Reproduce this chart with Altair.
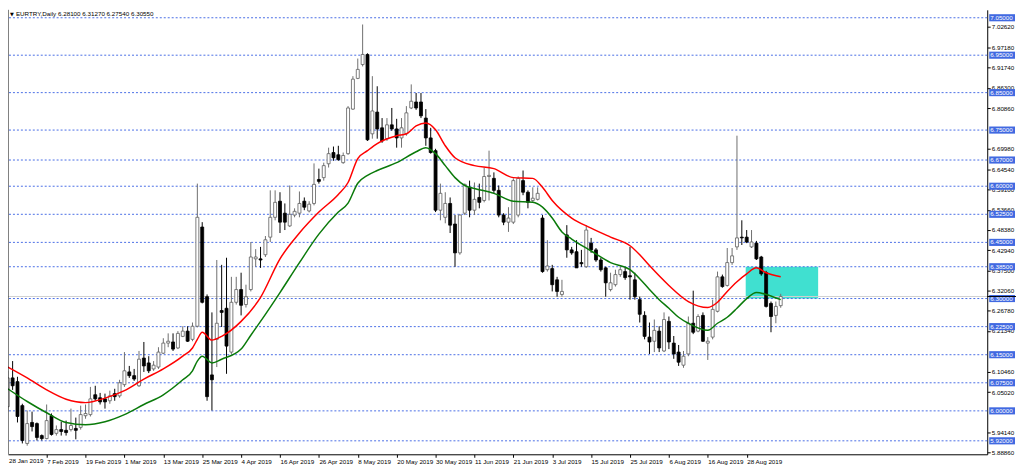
import altair as alt
import pandas as pd

# ---------------- data ----------------
bar_open = [6.011, 6.088, 6.078, 6.014, 5.913, 5.969, 5.966, 5.934, 5.926, 5.987,
            5.940, 5.950, 5.948, 5.950, 5.953, 5.956, 5.987, 5.990, 6.043, 6.035,
            6.032, 6.027, 6.046, 6.040, 6.070, 6.104, 6.094, 6.067, 6.141, 6.128,
            6.112, 6.117, 6.154, 6.181, 6.184, 6.168, 6.199, 6.213, 6.191, 6.226,
            6.491, 6.305, 6.096, 6.191, 6.268, 6.274, 6.157, 6.290, 6.324, 6.284,
            6.324, 6.406, 6.406, 6.417, 6.464, 6.517, 6.560, 6.528, 6.494, 6.523,
            6.528, 6.560, 6.534, 6.554, 6.618, 6.623, 6.660, 6.690, 6.684, 6.663,
            6.687, 6.806, 6.888, 6.925, 6.952, 6.740, 6.798, 6.756, 6.727, 6.764,
            6.753, 6.729, 6.740, 6.809, 6.825, 6.825, 6.782, 6.729, 6.695, 6.536,
            6.517, 6.554, 6.499, 6.422, 6.528, 6.597, 6.536, 6.570, 6.562, 6.626,
            6.621, 6.589, 6.523, 6.504, 6.504, 6.523, 6.615, 6.584, 6.562, 6.565,
            6.515, 6.377, 6.380, 6.350, 6.311, 6.470, 6.430, 6.425, 6.396, 6.385,
            6.448, 6.430, 6.403, 6.382, 6.324, 6.337, 6.364, 6.372, 6.361, 6.350,
            6.297, 6.255, 6.197, 6.186, 6.213, 6.160, 6.239, 6.181, 6.157, 6.122,
            6.152, 6.234, 6.213, 6.255, 6.181, 6.197, 6.266, 6.358, 6.335, 6.396,
            6.438, 6.464, 6.464, 6.438, 6.448, 6.411, 6.369, 6.287, 6.255, 6.281]
bar_high = [6.107, 6.133, 6.091, 6.019, 6.001, 5.998, 5.969, 5.937, 6.017, 5.993,
            5.961, 5.971, 5.974, 6.006, 5.982, 6.014, 6.017, 6.064, 6.067, 6.048,
            6.046, 6.054, 6.059, 6.083, 6.157, 6.120, 6.112, 6.160, 6.184, 6.146,
            6.133, 6.170, 6.194, 6.207, 6.207, 6.213, 6.226, 6.226, 6.236, 6.607,
            6.504, 6.311, 6.263, 6.403, 6.390, 6.409, 6.358, 6.358, 6.369, 6.337,
            6.451, 6.432, 6.438, 6.467, 6.589, 6.589, 6.584, 6.554, 6.602, 6.541,
            6.586, 6.570, 6.560, 6.661, 6.647, 6.663, 6.703, 6.706, 6.708, 6.690,
            6.814, 6.894, 6.941, 7.032, 6.955, 6.894, 6.867, 6.782, 6.782, 6.809,
            6.780, 6.782, 6.814, 6.872, 6.849, 6.849, 6.806, 6.756, 6.700, 6.607,
            6.584, 6.570, 6.523, 6.525, 6.607, 6.615, 6.610, 6.607, 6.650, 6.695,
            6.637, 6.602, 6.528, 6.544, 6.621, 6.626, 6.642, 6.589, 6.597, 6.597,
            6.523, 6.456, 6.390, 6.358, 6.350, 6.496, 6.438, 6.456, 6.430, 6.496,
            6.462, 6.435, 6.409, 6.385, 6.369, 6.377, 6.385, 6.382, 6.438, 6.369,
            6.305, 6.266, 6.236, 6.244, 6.226, 6.263, 6.252, 6.200, 6.176, 6.160,
            6.252, 6.321, 6.258, 6.263, 6.197, 6.297, 6.372, 6.364, 6.435, 6.435,
            6.735, 6.509, 6.483, 6.483, 6.454, 6.414, 6.374, 6.292, 6.292, 6.3127]
bar_low = [5.998, 6.056, 5.969, 5.913, 5.907, 5.945, 5.921, 5.921, 5.924, 5.934,
           5.934, 5.934, 5.934, 5.945, 5.924, 5.950, 5.979, 5.985, 6.027, 6.017,
           6.006, 6.019, 6.027, 6.035, 6.064, 6.088, 6.080, 6.064, 6.104, 6.101,
           6.107, 6.112, 6.152, 6.170, 6.160, 6.165, 6.197, 6.184, 6.186, 6.223,
           6.287, 6.027, 6.001, 6.117, 6.224, 6.099, 6.152, 6.284, 6.255, 6.276,
           6.319, 6.385, 6.382, 6.411, 6.451, 6.509, 6.475, 6.483, 6.491, 6.517,
           6.517, 6.536, 6.530, 6.549, 6.607, 6.615, 6.650, 6.668, 6.668, 6.660,
           6.684, 6.804, 6.886, 6.920, 6.721, 6.727, 6.727, 6.716, 6.721, 6.748,
           6.703, 6.703, 6.735, 6.806, 6.804, 6.782, 6.708, 6.687, 6.531, 6.509,
           6.501, 6.475, 6.385, 6.417, 6.523, 6.517, 6.523, 6.541, 6.557, 6.562,
           6.581, 6.517, 6.496, 6.478, 6.499, 6.517, 6.576, 6.541, 6.557, 6.562,
           6.369, 6.372, 6.319, 6.305, 6.305, 6.409, 6.417, 6.382, 6.385, 6.382,
           6.422, 6.398, 6.372, 6.305, 6.319, 6.332, 6.358, 6.350, 6.297, 6.297,
           6.236, 6.191, 6.152, 6.157, 6.157, 6.157, 6.165, 6.139, 6.120, 6.115,
           6.146, 6.205, 6.210, 6.184, 6.136, 6.191, 6.263, 6.329, 6.332, 6.390,
           6.430, 6.443, 6.448, 6.435, 6.403, 6.361, 6.276, 6.210, 6.234, 6.2754]
bar_close = [6.088, 6.067, 5.985, 5.921, 5.966, 5.958, 5.929, 5.926, 5.974, 5.937,
             5.950, 5.945, 5.942, 5.961, 5.948, 5.990, 5.993, 6.032, 6.032, 6.024,
             6.024, 6.040, 6.038, 6.075, 6.107, 6.094, 6.085, 6.138, 6.120, 6.107,
             6.122, 6.157, 6.181, 6.186, 6.165, 6.207, 6.213, 6.186, 6.226, 6.517,
             6.290, 6.038, 6.083, 6.234, 6.263, 6.173, 6.290, 6.324, 6.282, 6.305,
             6.411, 6.411, 6.403, 6.457, 6.517, 6.557, 6.504, 6.504, 6.525, 6.533,
             6.554, 6.544, 6.552, 6.605, 6.613, 6.655, 6.687, 6.676, 6.671, 6.682,
             6.809, 6.886, 6.912, 6.952, 6.724, 6.801, 6.753, 6.721, 6.764, 6.753,
             6.729, 6.756, 6.796, 6.827, 6.809, 6.788, 6.729, 6.690, 6.536, 6.581,
             6.554, 6.496, 6.422, 6.523, 6.605, 6.536, 6.565, 6.557, 6.626, 6.629,
             6.589, 6.523, 6.504, 6.515, 6.615, 6.621, 6.584, 6.557, 6.568, 6.581,
             6.372, 6.387, 6.337, 6.319, 6.319, 6.430, 6.422, 6.382, 6.393, 6.483,
             6.430, 6.403, 6.377, 6.342, 6.342, 6.364, 6.377, 6.356, 6.358, 6.305,
             6.258, 6.199, 6.184, 6.215, 6.168, 6.244, 6.184, 6.152, 6.130, 6.146,
             6.234, 6.210, 6.252, 6.186, 6.186, 6.271, 6.358, 6.332, 6.396, 6.414,
             6.462, 6.462, 6.451, 6.451, 6.406, 6.366, 6.279, 6.252, 6.279, 6.3055]

date_labels = ["28 Jan 2019", "7 Feb 2019", "19 Feb 2019", "1 Mar 2019", "13 Mar 2019",
               "25 Mar 2019", "4 Apr 2019", "16 Apr 2019", "26 Apr 2019", "8 May 2019",
               "20 May 2019", "30 May 2019", "11 Jun 2019", "21 Jun 2019", "3 Jul 2019",
               "15 Jul 2019", "25 Jul 2019", "6 Aug 2019", "16 Aug 2019", "28 Aug 2019"]
bars_per_label = 8

# price-scale labels that are visible in the reference (others are hidden behind level tags)
price_ticks = [7.08060, 7.02620, 6.97180, 6.91740, 6.86300, 6.80860, 6.69980,
               6.64540, 6.59100, 6.53660, 6.48380, 6.42940, 6.37500, 6.32060, 6.26780,
               6.21340, 6.10460, 6.05020, 5.94140, 5.88860]

level_prices = [7.05, 6.95, 6.85, 6.75, 6.67, 6.60, 6.525, 6.45, 6.385, 6.30,
                6.225, 6.15, 6.075, 6.00, 5.92]

red_idx = [0, 4, 8, 12, 16, 20, 24, 28, 32, 36, 38, 39, 40, 42, 44, 48, 52, 56, 60, 64,
           68, 70, 72, 74, 76, 80, 82, 84, 86, 88, 90, 92, 96, 100, 104, 108, 110, 112,
           116, 120, 124, 128, 130, 132, 136, 140, 144, 146, 148, 150, 152, 154, 156, 159]
red_ma = [6.117, 6.088, 6.056, 6.031, 6.022, 6.034, 6.054, 6.085, 6.112, 6.146, 6.168,
          6.191, 6.210, 6.189, 6.199, 6.239, 6.303, 6.406, 6.475, 6.531, 6.578, 6.610,
          6.674, 6.695, 6.714, 6.735, 6.740, 6.761, 6.769, 6.751, 6.708, 6.676, 6.655,
          6.647, 6.623, 6.621, 6.597, 6.562, 6.515, 6.488, 6.464, 6.441, 6.417, 6.388,
          6.335, 6.292, 6.276, 6.290, 6.319, 6.345, 6.366, 6.382, 6.369, 6.358]

green_idx = [0, 4, 8, 12, 16, 20, 24, 28, 32, 36, 38, 39, 40, 42, 44, 48, 50, 52, 56, 60,
             64, 68, 70, 72, 74, 76, 80, 84, 86, 88, 90, 92, 94, 96, 100, 104, 108, 110,
             112, 114, 116, 120, 124, 128, 130, 132, 134, 136, 138, 140, 144, 146, 148,
             150, 152, 154, 156, 159]
green_ma = [6.059, 6.025, 5.995, 5.969, 5.963, 5.971, 5.990, 6.017, 6.043, 6.083, 6.107,
            6.133, 6.146, 6.128, 6.138, 6.165, 6.202, 6.239, 6.316, 6.396, 6.472, 6.531,
            6.555, 6.608, 6.629, 6.642, 6.663, 6.692, 6.703, 6.687, 6.655, 6.623, 6.602,
            6.594, 6.581, 6.560, 6.557, 6.544, 6.515, 6.478, 6.459, 6.427, 6.396, 6.377,
            6.353, 6.324, 6.297, 6.274, 6.250, 6.234, 6.215, 6.234, 6.250, 6.274, 6.300,
            6.316, 6.311, 6.297]

zone_start, zone_end = 151.8, 166.7
zone_low, zone_high = 6.30, 6.385
bid_price = 6.3055
header_text = "EURTRY,Daily  6.28100 6.31270 6.27540 6.30550"

# ---------------- chart ----------------
W, H = 987, 448
FONT = "Liberation Sans"
FS = 6.3
xs = alt.Scale(domain=[1.071, 200.46], nice=False, zero=False)
ys = alt.Scale(domain=[5.884, 7.0712], nice=False, zero=False)

candles = pd.DataFrame({"i": list(range(len(bar_open))), "o": bar_open, "h": bar_high,
                        "l": bar_low, "c": bar_close})
levels = pd.DataFrame({"p": level_prices})
red_df = pd.DataFrame({"i": red_idx, "v": red_ma})
green_df = pd.DataFrame({"i": green_idx, "v": green_ma})
zone_df = pd.DataFrame({"i": [zone_start], "x1": [zone_end], "p": [zone_low], "hi": [zone_high]})
bid_df = pd.DataFrame({"p": [bid_price]})
one = pd.DataFrame({"t": [header_text]})

label_arr = "[" + ",".join("'" + s + "'" for s in date_labels) + "]"
x_axis = alt.Axis(values=[bars_per_label * k for k in range(1, len(date_labels))],
                  labelExpr=label_arr + "[round(datum.value/" + str(bars_per_label) + ")]",
                  orient="bottom", grid=False, tickSize=3, labelAlign="left",
                  labelBaseline="top", labelPadding=1, labelFontSize=FS, labelFont=FONT,
                  labelColor="#000", domainColor="#000", tickColor="#000",
                  labelOverlap=False, labelFlush=False, labelBound=False, title=None)
y_axis = alt.Axis(orient="right", values=price_ticks, format=".5f", grid=False,
                  tickSize=3, labelAlign="left", labelBaseline="middle", labelPadding=1,
                  labelFontSize=FS, labelFont=FONT, labelColor="#000",
                  domainColor="#000", tickColor="#000", labelOverlap=False,
                  labelFlush=False, labelBound=False, title=None)

X = lambda f: alt.X(f, scale=xs, axis=x_axis, title=None)
Y = lambda f: alt.Y(f, scale=ys, axis=y_axis, title=None)

zone = alt.Chart(zone_df).mark_rect(color="#40E0D0").encode(
    x=X("i:Q"), x2="x1:Q", y=Y("p:Q"), y2="hi:Q")

level_lines = alt.Chart(levels).mark_rule(color="#4a6ee6", strokeDash=[2, 2],
                                          strokeWidth=1).encode(y=Y("p:Q"))

bid_line = alt.Chart(bid_df).mark_rule(color="#d0d0d0", strokeWidth=1).encode(y=Y("p:Q"))

wicks = alt.Chart(candles).mark_rule(strokeWidth=1).encode(
    x=X("i:Q"), y=Y("l:Q"), y2="h:Q",
    color=alt.condition("datum.c >= datum.o", alt.value("#6e6e6e"), alt.value("#000000")))

bodies = alt.Chart(candles).mark_bar(size=3, strokeWidth=0.8).encode(
    x=X("i:Q"), y=Y("o:Q"), y2="c:Q",
    fill=alt.condition("datum.c >= datum.o", alt.value("#ffffff"), alt.value("#000000")),
    stroke=alt.condition("datum.c >= datum.o", alt.value("#5e5e5e"), alt.value("#000000")))

red_line = alt.Chart(red_df).mark_line(color="#ff0000", strokeWidth=1.5,
                                       interpolate="monotone").encode(
    x=X("i:Q"), y=Y("v:Q"))
green_line = alt.Chart(green_df).mark_line(color="#0a7a0a", strokeWidth=1.5,
                                           interpolate="monotone").encode(
    x=X("i:Q"), y=Y("v:Q"))

boxes = alt.Chart(levels).transform_calculate(
    lo="datum.p - 0.0095", hi="datum.p + 0.0095").mark_rect(color="#4169E1").encode(
    x=alt.value(W + 2), x2=alt.value(W + 28), y=Y("lo:Q"), y2="hi:Q")
box_text = alt.Chart(levels).mark_text(align="left", baseline="middle", color="#ffffff",
                                       fontSize=FS, font=FONT).encode(
    x=alt.value(W + 3), y=Y("p:Q"), text=alt.Text("p:Q", format=".5f"))

bid_tick = alt.Chart(bid_df).mark_rule(color="#000000", strokeWidth=1).encode(
    x=alt.value(W), x2=alt.value(W + 29), y=Y("p:Q"))

left_border = alt.Chart(one).mark_rule(color="#000000", strokeWidth=1).encode(
    x=alt.value(0), y=alt.value(0), y2=alt.value(H))

header = alt.Chart(one).mark_text(align="left", baseline="middle", fontSize=FS,
                                  font=FONT, color="#000").encode(
    x=alt.value(8), y=alt.value(4), text="t:N")
triangle = alt.Chart(one).mark_text(align="left", baseline="middle", fontSize=5,
                                    font="DejaVu Sans", color="#000").encode(
    x=alt.value(2), y=alt.value(4), text=alt.value("▼"))
first_date = alt.Chart(one).mark_text(align="left", baseline="top", fontSize=FS,
                                      font=FONT, color="#000").encode(
    x=alt.value(1), y=alt.value(H + 4), text=alt.value(date_labels[0]))

chart = alt.layer(
    zone, level_lines, bid_line, wicks, bodies, red_line, green_line,
    boxes, box_text, bid_tick, left_border, header, triangle, first_date
).properties(
    width=W, height=H,
    autosize=alt.AutoSizeParams(type="none"),
    padding={"left": 0, "top": 0, "right": 29, "bottom": 14},
    background="#ffffff"
).configure_view(stroke=None)

chart.save("out.html", embed_options={"renderer": "svg", "actions": False})
